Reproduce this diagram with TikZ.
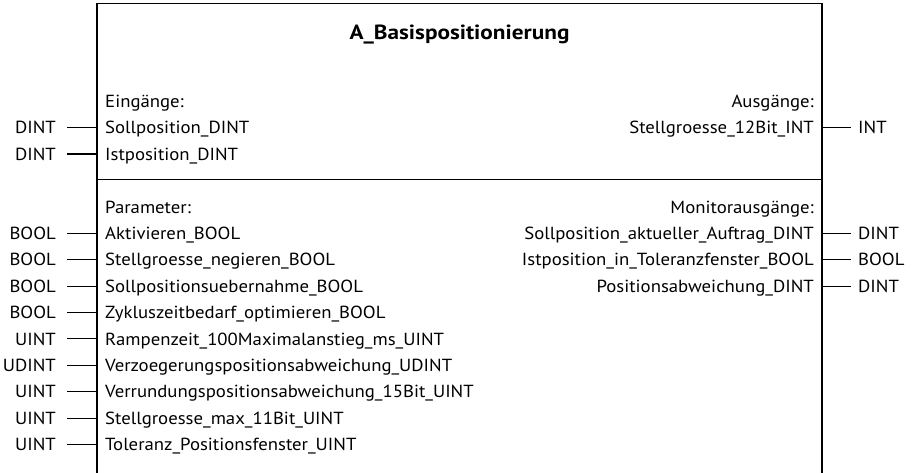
\documentclass[tikz,border=0pt]{standalone}
\usepackage{fontspec}
\setmainfont{PT Sans}
\newlength\reflen
\newlength\titlen
\newcommand\inrow[4]{%
  \node[inl] (#1) at (105,#2+\cy) {#4};
  \node[typl] (#1t) at (56,#2+\cy) {#3};
  \coordinate (#1p) at (97,#2);
  \draw[wire, shorten >=11pt] (#1p) -- (#1p -| #1t.east);
}
\newcommand\outrow[4]{%
  \node[outl] (#1) at (814,#2+\cy) {#4};
  \node[typr] (#1t) at (858,#2+\cy) {#3};
  \coordinate (#1p) at (822,#2);
  \draw[wire, shorten >=7pt] (#1p) -- (#1p -| #1t.west);
}
\begin{document}
\def\fs{17.5}%
\def\ft{20.5}%
\settowidth\reflen{\fontsize{\fs pt}{18pt}\selectfont Verzoegerungspositionsabweichung\_UDINT}%
\settowidth\titlen{\fontsize{\ft pt}{20pt}\selectfont\bfseries A\_Basispositionierung}%
\pgfmathsetmacro\bstretch{347/\reflen}%
\pgfmathsetmacro\tstretch{220/\titlen}%
\pgfmathsetmacro\cy{0.35*\fs}%
\newfontfamily\bodyfont{PT Sans}[FakeStretch=\bstretch]%
\newfontfamily\titlefont{PT Sans Bold}[FakeStretch=\tstretch]%
\begin{tikzpicture}[x=1pt,y=-1pt]
\tikzset{
  lbl/.style={inner sep=0pt, font=\bodyfont\fontsize{\fs pt}{\fs pt}\selectfont},
  inl/.style={lbl, anchor=base west},
  outl/.style={lbl, anchor=base east},
  typl/.style={lbl, anchor=base east},
  typr/.style={lbl, anchor=base west},
  wire/.style={line width=1.1pt},
  frame/.style={line width=1.2pt},
  titl/.style={inner sep=0pt, anchor=base, font=\titlefont\fontsize{\ft pt}{\ft pt}\selectfont}
}
\useasboundingbox (0,0) rectangle (916,473);
% frame
\coordinate (tl) at (97,3.5);
\coordinate (tr) at (822,3.5);
\coordinate (bl) at (97,473);
\coordinate (br) at (822,473);
\coordinate (dl) at (97,179.5);
\coordinate (dr) at (822,179.5);
\draw[frame] (bl) -- (tl) -- (tr) -- (br);
\draw[frame] (dl) -- (dr);
\node[titl] (title) at (459.5,39.3) {A\_Basispositionierung};
% headers
\node[inl] (hin) at (105,101+\cy) {Eingänge:};
\node[outl] (hout) at (814,101+\cy) {Ausgänge:};
\node[inl] (hpar) at (105,206.9+\cy) {Parameter:};
\node[outl] (hmon) at (814,206.9+\cy) {Monitorausgänge:};
% inputs
\inrow{i1}{127.5}{DINT}{Sollposition\_DINT}
\inrow{i2}{154}{DINT}{Istposition\_DINT}
% parameters
\inrow{p1}{233.3}{BOOL}{Aktivieren\_BOOL}
\inrow{p2}{259.7}{BOOL}{Stellgroesse\_negieren\_BOOL}
\inrow{p3}{286.1}{BOOL}{Sollpositionsuebernahme\_BOOL}
\inrow{p4}{312.5}{BOOL}{Zykluszeitbedarf\_optimieren\_BOOL}
\inrow{p5}{338.9}{UINT}{Rampenzeit\_100Maximalanstieg\_ms\_UINT}
\inrow{p6}{365.3}{UDINT}{Verzoegerungspositionsabweichung\_UDINT}
\inrow{p7}{391.7}{UINT}{Verrundungspositionsabweichung\_15Bit\_UINT}
\inrow{p8}{418.1}{UINT}{Stellgroesse\_max\_11Bit\_UINT}
\inrow{p9}{444.5}{UINT}{Toleranz\_Positionsfenster\_UINT}
% outputs
\outrow{o1}{127.5}{INT}{Stellgroesse\_12Bit\_INT}
\outrow{m1}{233.3}{DINT}{Sollposition\_aktueller\_Auftrag\_DINT}
\outrow{m2}{259.7}{BOOL}{Istposition\_in\_Toleranzfenster\_BOOL}
\outrow{m3}{286.1}{DINT}{Positionsabweichung\_DINT}
\end{tikzpicture}
\end{document}
